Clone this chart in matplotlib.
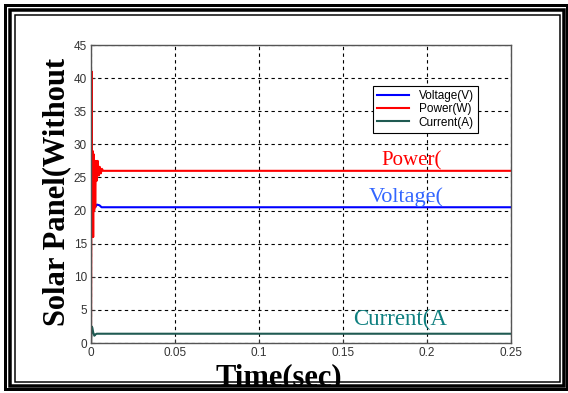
import numpy as np
import matplotlib
matplotlib.use('Agg')
import matplotlib.pyplot as plt
from matplotlib.patches import Rectangle

# simulated panel output, first few ms carry the start-up transient
t_power = [0, 0.0004, 0.0007, 0.001, 0.0013, 0.0016, 0.0019, 0.0022, 0.0025,
           0.0029, 0.0034, 0.004, 0.0046, 0.0052, 0.0058, 0.0065, 0.0072, 0.25]
power = [0, 41, 20, 29, 16, 28.5, 20, 27, 20.5, 27.5, 24.5, 27.5, 25.3, 26.6,
         25.6, 26.3, 26, 26]

t_volt = [0.0004, 0.0009, 0.0014, 0.0025, 0.0035, 0.005, 0.0063, 0.25]
voltage = [16.5, 19.5, 20.3, 20.5, 20.9, 20.8, 20.5, 20.5]

t_curr = [0, 0.0004, 0.0008, 0.0013, 0.002, 0.0027, 0.0034, 0.25]
current = [0, 2.5, 2.3, 1.6, 1.1, 1.3, 1.4, 1.4]

xticks = [0, 0.05, 0.1, 0.15, 0.2, 0.25]
xticklabels = ['0', '0.05', '0.1', '0.15', '0.2', '0.25']
yticks = [0, 5, 10, 15, 20, 25, 30, 35, 40, 45]

W, H = 568, 393
fig = plt.figure(figsize=(W / 100, H / 100), dpi=100)
fig.patch.set_facecolor('white')
ax = fig.add_axes([91 / W, 1 - 343 / H, 420 / W, 298 / H])

ax.plot(t_volt, voltage, color='#0000ff', lw=1.5, label='Voltage(V)')
ax.plot(t_power, power, color='#ff0000', lw=1.5, label='Power(W)')
ax.plot(t_curr, current, color='#1f5a52', lw=1.5, label='Current(A)')

ax.set_xlim(0, 0.25)
ax.set_ylim(0, 45)
ax.set_xticks(xticks)
ax.set_xticklabels(xticklabels)
ax.set_yticks(yticks)
ax.tick_params(direction='in', length=3, labelsize=8.5, colors='#333333', pad=3)
for lab in ax.get_xticklabels() + ax.get_yticklabels():
    lab.set_family('Liberation Sans')
ax.grid(True, color='black', linestyle=(0, (3, 3)), linewidth=0.8)
for sp in ax.spines.values():
    sp.set_color('#555555')
    sp.set_linewidth(1.0)

leg = ax.legend(loc='upper right', bbox_to_anchor=(0.921, 0.862),
                prop={'family': 'Liberation Sans', 'size': 8.5},
                frameon=True, fancybox=False, framealpha=1,
                edgecolor='black', handlelength=2.7, borderpad=0.35,
                labelspacing=0.1, handletextpad=0.8, borderaxespad=0)
leg.get_frame().set_linewidth(0.8)

# labels written on the curves
ax.text(0.191, 26.1, 'Power(', color='#ff0000', fontsize=15,
        family='Liberation Serif', ha='center', va='bottom')
ax.text(0.1875, 20.6, 'Voltage(', color='#3366ff', fontsize=16,
        family='Liberation Serif', ha='center', va='bottom')
ax.text(0.184, 2.0, 'Current(A', color='#108080', fontsize=16.5,
        family='Liberation Serif', ha='center', va='bottom')

fig.text(57 / W, 1 - 192 / H, 'Solar Panel(Without', rotation=90,
         fontsize=22, fontweight='bold', family='Liberation Serif',
         ha='center', va='center')
fig.text(279 / W, 1 - 385 / H, 'Time(sec)', fontsize=22, fontweight='bold',
         family='Liberation Serif', ha='center', va='baseline')

# double frame around the figure
def frame(x0, y0, x1, y1, lw):
    fig.patches.append(Rectangle((x0 / W, 1 - y1 / H), (x1 - x0) / W,
                                 (y1 - y0) / H, transform=fig.transFigure,
                                 fill=False, edgecolor='black',
                                 linewidth=lw * 0.72, zorder=10))

fig.patches.append(Rectangle((0, 0), 1, 1 - 385 / H, transform=fig.transFigure,
                             facecolor='white', edgecolor='none', zorder=9))
frame(5, 5, 567, 389, 3)
frame(10, 10, 564, 385.5, 3.5)
frame(15, 15, 560, 382, 1.5)

fig.savefig('out.png', dpi=100)
